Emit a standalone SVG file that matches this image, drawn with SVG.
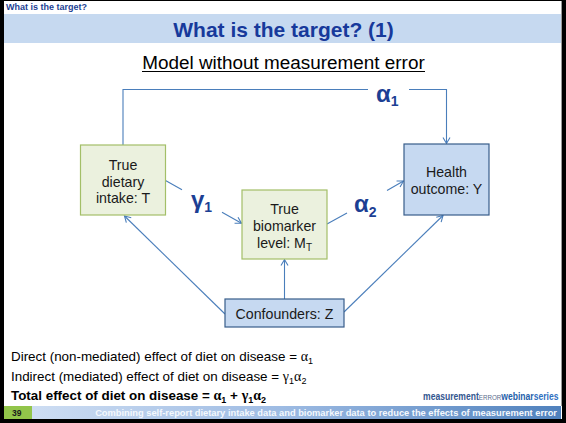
<svg xmlns="http://www.w3.org/2000/svg" width="566" height="423" viewBox="0 0 566 423">
<defs>
<style>
.sans{font-family:"Liberation Sans",Arial,sans-serif}
.nodeG{fill:#EBF1DE;stroke:#A3BF68;stroke-width:1.2}
.nodeB{fill:#C6D9F1;stroke:#385D8A;stroke-width:1.2}
.nt{font-family:"Liberation Sans",Arial,sans-serif;font-size:14.2px;fill:#1a1a1a;text-anchor:middle}
.conn{fill:none;stroke:#4A7EBB;stroke-width:1.1}
.lbl{font-family:"Liberation Sans",Arial,sans-serif;fill:#1C3F94;font-weight:bold}
.body{font-family:"Liberation Sans",Arial,sans-serif;font-size:13.4px;fill:#000}
.gk{font-family:"Liberation Serif","DejaVu Serif",serif;font-size:14px}
.logo{font-family:"Liberation Sans",Arial,sans-serif;font-size:11px}
</style>
<marker id="arr" markerWidth="10" markerHeight="10" refX="8" refY="5" orient="auto" markerUnits="userSpaceOnUse">
<path d="M2,1.5 L8,5 L2,8.5" fill="none" stroke="#4A7EBB" stroke-width="1.1"/>
</marker>
<linearGradient id="foot" x1="0" y1="0" x2="1" y2="0">
<stop offset="0" stop-color="#D3E1F4"/>
<stop offset="0.5" stop-color="#9DBBE3"/>
<stop offset="1" stop-color="#4F81BD"/>
</linearGradient>
</defs>
<rect x="0" y="0" width="566" height="423" fill="#000"/>
<rect x="4" y="1" width="558" height="418" fill="#fff"/>
<line x1="561.5" y1="1" x2="561.5" y2="406" stroke="#9a9a9a" stroke-width="1"/>
<rect x="4" y="14" width="557" height="29" fill="#C6D9F0"/>
<text x="6" y="10" class="sans" font-size="9" font-weight="bold" fill="#1C3F94">What is the target?</text>
<text x="283.5" y="37" class="sans" font-size="21" font-weight="bold" fill="#17399B" text-anchor="middle">What is the target? (1)</text>
<text x="283.5" y="69" class="sans" font-size="18.9" fill="#000" text-anchor="middle">Model without measurement error</text>
<line x1="142" y1="71.5" x2="425" y2="71.5" stroke="#000" stroke-width="1.2"/>

<g id="connectors">
<path class="conn" d="M123,145 V89.5 H368 M409,89.5 H446.5 V143.5" marker-end="url(#arr)"/>
<path class="conn" d="M165.5,180.5 L182,189.7 M222,212.2 L241.5,223.2" marker-end="url(#arr)"/>
<path class="conn" d="M327,224 L347,213 M387,190.5 L403.5,181" marker-end="url(#arr)"/>
<path class="conn" d="M225,314 L124.5,216" marker-end="url(#arr)"/>
<path class="conn" d="M284.5,299 V259.5" marker-end="url(#arr)"/>
<path class="conn" d="M344,312 L443,215.5" marker-end="url(#arr)"/>
</g>

<g id="label-alpha1"><text x="376" y="102" class="lbl" font-size="24">α<tspan font-size="14" dy="4">1</tspan></text></g>
<g id="label-gamma1"><text x="191" y="208" class="lbl" font-size="24">γ<tspan font-size="14" dy="4">1</tspan></text></g>
<g id="label-alpha2"><text x="354" y="212" class="lbl" font-size="24">α<tspan font-size="14" dy="5">2</tspan></text></g>

<g id="node-T">
<rect class="nodeG" x="80.5" y="145" width="85" height="70"/>
<text class="nt" x="123" y="170">True</text>
<text class="nt" x="123" y="186.5">dietary</text>
<text class="nt" x="123" y="203">intake: T</text>
</g>
<g id="node-M">
<rect class="nodeG" x="242" y="190" width="85" height="69"/>
<text class="nt" x="284.5" y="214">True</text>
<text class="nt" x="284.5" y="231">biomarker</text>
<text class="nt" x="284.5" y="248">level: M<tspan font-size="10" dy="3">T</tspan></text>
</g>
<g id="node-Y">
<rect class="nodeB" x="404" y="144" width="85" height="71"/>
<text class="nt" x="446.5" y="177">Health</text>
<text class="nt" x="446.5" y="194">outcome: Y</text>
</g>
<g id="node-Z">
<rect class="nodeB" x="225" y="299" width="119" height="28"/>
<text class="nt" x="284.5" y="319">Confounders: Z</text>
</g>

<text x="11" y="361" class="body">Direct (non-mediated) effect of diet on disease = <tspan class="gk">α</tspan><tspan font-size="9" dy="3">1</tspan></text>
<text x="11" y="380.5" class="body">Indirect (mediated) effect of diet on disease = <tspan class="gk">γ</tspan><tspan font-size="9" dy="3">1</tspan><tspan class="gk" dy="-3">α</tspan><tspan font-size="9" dy="3">2</tspan></text>
<text x="11" y="400" class="body" font-weight="bold">Total effect of diet on disease = <tspan class="gk">α</tspan><tspan font-size="9" dy="3">1</tspan><tspan dy="-3"> + </tspan><tspan class="gk">γ</tspan><tspan font-size="9" dy="3">1</tspan><tspan class="gk" dy="-3">α</tspan><tspan font-size="9" dy="3">2</tspan></text>

<g transform="translate(423,400) scale(0.78,1)">
<text x="0" y="0" class="logo"><tspan fill="#33568F" font-weight="bold">measurement</tspan><tspan fill="#5A6E8C" font-size="8">ERROR</tspan><tspan fill="#1F5FAA" font-weight="bold">webinar</tspan><tspan fill="#2F6FBF" font-weight="bold">series</tspan></text>
</g>

<rect x="4" y="406" width="557" height="13" fill="url(#foot)"/>
<rect x="4" y="406" width="28" height="13" fill="#92C54A"/>
<text x="12" y="416" class="sans" font-size="8.5" font-weight="bold" fill="#1a1a1a">39</text>
<text x="557" y="416" class="sans" font-size="9.3" font-weight="bold" fill="#F4F8FD" text-anchor="end">Combining self-report dietary intake data and biomarker data to reduce the effects of measurement error</text>
</svg>
